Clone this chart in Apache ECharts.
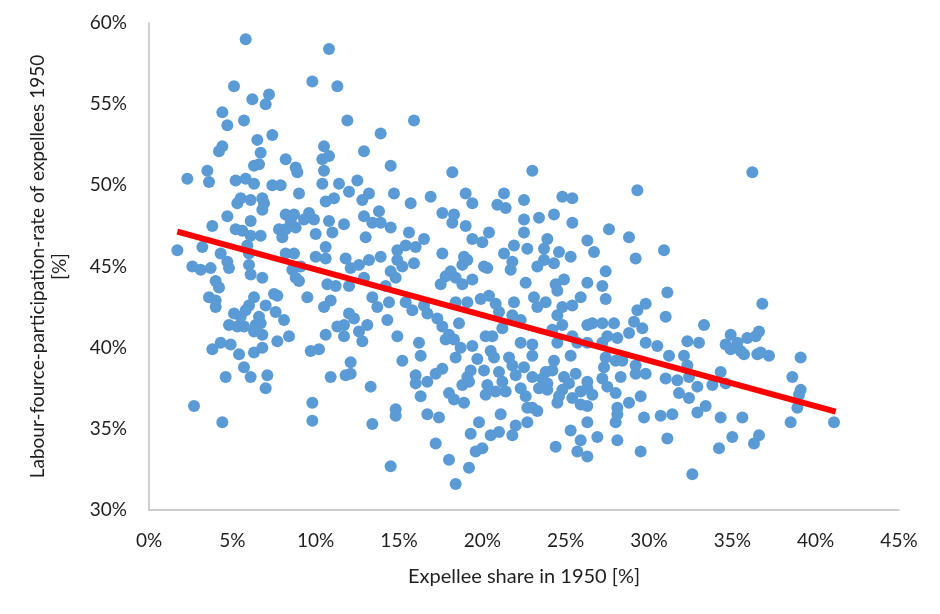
<!DOCTYPE html>
<html>
<head>
<meta charset="utf-8">
<title>Expellee share vs labour-force participation</title>
<script src="https://cdn.jsdelivr.net/npm/echarts@6/dist/echarts.min.js"></script>
<style>
  html, body { margin: 0; padding: 0; background: #fff; }
  #chart { width: 940px; height: 614px; }
</style>
</head>
<body>
<div id="chart"></div>
<script>
// values: [expellee share %, participation rate %]
var ptsTopLeft = [
  [5.8,59.0],[10.8,58.4],[5.1,56.1],[9.8,56.4],[11.3,56.1],[6.2,55.3],[7.2,55.6],[7.0,55.0],[4.4,54.5],[4.7,53.7],
  [5.7,54.0],[6.5,52.8],[7.4,53.1],[4.4,52.4],[4.2,52.1],[6.7,52.0],[10.5,52.4],[8.2,51.6],[10.8,51.8],[10.4,51.6],
  [6.3,51.2],[6.6,51.3],[8.8,51.1],[8.9,50.8],[10.5,50.9],[3.5,50.9],[2.3,50.4],[3.6,50.2],[5.2,50.3],[5.8,50.4],
  [6.3,50.1],[7.4,50.0],[7.9,50.0],[10.4,50.1],[11.4,50.1],[11.9,54.0],[15.9,54.0],[13.9,53.2],[12.9,52.1],[14.5,51.2],
  [18.2,50.8],[12.5,50.3],[23.0,50.9],[36.2,50.8]
];
var ptsLeft = [
  [9.0,49.5],[5.5,49.2],[5.3,48.9],[6.1,49.1],[6.8,49.2],[6.9,48.9],[6.8,48.5],[10.6,49.0],[11.1,49.2],[8.2,48.2],
  [8.7,48.2],[9.6,48.3],[8.5,47.8],[9.3,47.9],[9.9,47.9],[10.8,47.8],[4.7,48.1],[6.1,47.8],[3.8,47.5],[5.2,47.3],
  [5.6,47.2],[6.1,46.9],[6.7,46.9],[7.8,47.3],[8.2,47.3],[8.8,47.4],[8.0,46.8],[10.0,47.0],[11.0,47.1],[5.9,46.3],
  [3.2,46.2],[1.7,46.0],[4.3,45.8],[6.0,45.8],[8.2,45.8],[8.7,45.8],[10.6,46.2],[10.0,45.6],[10.6,45.5],[2.6,45.0],
  [3.1,44.8],[3.7,44.9],[4.7,45.3],[4.8,44.9],[6.0,45.1],[6.1,44.5],[6.8,44.3],[8.6,44.8],[9.1,45.0],[8.8,44.3],
  [9.0,44.1],[4.0,44.1],[4.2,43.7],[10.7,43.9],[11.2,43.8],[3.6,43.1],[4.0,42.9],[4.0,42.5],[6.3,43.1],[7.5,43.3],
  [7.7,43.2],[9.5,43.1],[10.9,42.9],[10.5,42.5],[6.0,42.6],[5.8,42.3],[7.0,42.6],[7.6,42.2],[8.1,41.7],[5.1,42.1],
  [5.5,41.9],[4.8,41.4],[5.3,41.3],[5.7,41.3],[6.6,41.9],[6.4,41.4],[6.7,41.5],[6.3,41.0],[6.8,40.8],[8.4,40.7],
  [7.7,40.4],[10.6,40.8],[11.3,41.3],[4.3,40.3],[4.9,40.2],[3.8,39.9],[5.4,39.6],[6.3,39.7],[9.7,39.8],[10.2,39.9],
  [6.8,40.0],[5.7,38.8],[4.6,38.2],[6.1,38.2],[7.1,38.3],[7.0,37.5],[10.9,38.2],[2.7,36.4],[4.4,35.4],[9.8,36.6],
  [9.8,35.5]
];
var ptsMiddle = [
  [12.0,49.6],[13.2,49.5],[12.8,49.1],[14.7,49.5],[16.9,49.3],[15.7,48.9],[19.0,49.5],[19.4,48.9],[21.3,49.5],[20.9,48.8],
  [21.4,48.6],[22.5,49.1],[17.6,48.3],[18.3,48.2],[18.2,47.7],[13.8,48.4],[12.9,48.1],[13.4,47.7],[13.9,47.7],[14.5,47.4],
  [11.7,47.6],[13.0,46.8],[15.6,47.1],[19.0,47.5],[20.4,47.1],[19.4,46.7],[20.0,46.5],[22.5,47.9],[22.5,47.1],[21.9,46.3],
  [22.7,46.1],[16.5,46.7],[15.4,46.3],[16.0,46.2],[14.9,46.0],[17.6,45.8],[18.9,45.6],[19.1,45.4],[18.8,45.1],[21.3,45.8],
  [21.8,45.3],[21.7,44.8],[13.9,45.6],[13.2,45.4],[12.6,45.1],[11.8,45.5],[12.1,44.9],[14.9,45.4],[15.2,45.0],[15.9,45.2],
  [14.5,44.7],[14.8,44.3],[20.1,45.0],[20.3,44.9],[18.1,44.7],[17.8,44.4],[18.4,44.3],[19.4,44.2],[18.8,43.9],[17.5,43.9],
  [22.6,44.0],[12.0,43.8],[12.9,44.3],[14.2,43.8],[13.4,43.1],[13.7,42.5],[14.4,42.8],[15.4,42.8],[15.8,42.3],[16.5,42.6],
  [16.7,42.1],[18.4,42.8],[19.1,42.8],[19.9,43.0],[20.4,43.2],[20.8,42.7],[21.0,42.2],[21.9,42.8],[21.8,42.0],[22.3,41.7],
  [12.0,42.1],[12.3,41.8],[11.7,41.4],[14.3,41.7],[13.1,41.4],[12.6,41.0],[12.8,40.4],[11.7,40.7],[17.3,41.8],[17.6,41.3],
  [18.0,40.8],[18.6,41.5],[18.3,40.5],[17.8,40.5],[14.9,40.7],[16.2,40.3],[19.4,40.1],[20.2,40.7],[20.6,40.7],[21.2,41.2],
  [22.3,40.3]
];
var ptsLowMiddle = [
  [18.7,40.0],[20.5,39.8],[21.6,39.4],[12.1,39.1],[11.8,38.3],[12.1,38.4],[13.3,37.6],[15.2,39.2],[16.3,39.5],[18.4,39.4],
  [19.7,39.3],[20.7,39.4],[16.0,38.3],[16.0,37.8],[16.7,37.9],[17.2,38.4],[17.6,38.7],[16.3,37.0],[18.0,37.2],[18.3,36.8],
  [18.9,36.6],[18.8,37.7],[19.1,38.2],[19.3,38.6],[19.2,37.9],[20.1,38.6],[21.0,38.5],[20.3,37.7],[21.2,37.9],[20.2,37.1],
  [20.8,37.3],[21.4,37.3],[21.8,38.9],[22.0,38.3],[22.5,38.8],[22.3,37.5],[22.6,37.0],[22.7,36.3],[22.7,35.4],[14.8,36.2],
  [14.8,35.8],[13.4,35.3],[16.7,35.9],[17.4,35.7],[21.1,35.9],[19.8,35.4],[19.3,34.7],[20.5,34.6],[21.0,34.8],[22.0,35.2],
  [21.8,34.6],[17.2,34.1],[19.6,33.6],[20.0,33.8],[18.0,33.1],[14.5,32.7],[19.2,32.6],[18.4,31.6]
];
var ptsRight = [
  [24.8,49.3],[25.4,49.2],[29.3,49.7],[23.4,48.0],[24.3,48.2],[25.4,47.7],[27.6,47.3],[28.8,46.8],[26.3,46.6],[26.7,45.9],
  [29.2,45.5],[30.9,46.0],[23.9,46.7],[23.7,46.1],[24.6,45.9],[25.3,45.6],[23.7,45.4],[23.3,45.0],[24.3,45.2],[27.4,44.7],
  [24.9,44.2],[24.4,43.9],[24.5,43.5],[26.3,44.0],[27.2,43.8],[27.4,43.0],[25.9,43.1],[23.1,43.1],[23.3,42.5],[23.8,42.8],
  [24.8,42.5],[25.4,42.6],[31.1,43.4],[29.8,42.7],[29.3,42.3],[31.0,41.9],[24.5,42.0],[24.8,41.4],[24.2,41.1],[26.3,41.4],
  [26.6,41.5],[27.2,41.5],[27.9,41.5],[29.1,41.6],[29.6,41.2],[28.8,40.9],[27.5,40.7],[28.1,40.6],[25.4,40.7],[25.7,40.3],
  [24.5,40.3],[23.0,40.2],[26.3,40.3],[27.2,40.3],[29.8,40.3],[30.5,40.1],[32.3,40.4],[33.0,40.3],[33.3,41.4]
];
var ptsLowRight = [
  [25.3,39.5],[23.0,39.5],[24.3,39.2],[23.8,38.5],[24.2,38.6],[23.0,38.2],[23.6,38.1],[23.9,37.8],[23.4,37.5],[23.9,37.4],
  [24.9,38.2],[25.6,38.4],[25.2,37.8],[24.8,37.4],[24.6,37.0],[24.5,36.6],[25.4,36.9],[25.9,37.3],[26.3,37.9],[26.3,37.5],
  [26.6,37.1],[25.9,36.5],[26.3,36.4],[23.0,36.3],[23.3,36.1],[27.3,38.8],[27.4,39.4],[28.0,39.2],[28.4,39.2],[27.2,38.1],
  [27.5,37.6],[28.3,38.2],[28.0,37.2],[29.2,38.9],[29.2,38.4],[29.8,38.4],[29.5,37.0],[28.8,36.6],[28.1,36.3],[28.1,35.9],
  [28.0,35.4],[29.7,35.7],[26.3,35.4],[25.3,34.9],[25.9,34.3],[26.9,34.5],[24.4,33.9],[25.7,33.6],[26.3,33.3],[28.1,34.3],
  [29.5,33.6],[31.1,34.4],[30.7,35.8],[31.4,35.9],[32.6,32.2],[31.0,38.1],[31.7,38.0],[31.2,39.5],[32.1,39.5],[32.3,38.9],
  [32.4,38.2],[32.9,37.6],[31.8,37.2],[32.4,36.9],[33.4,36.4],[32.9,36.0],[33.8,37.7]
];
var ptsFarRight = [
  [36.8,42.7],[34.9,40.8],[36.6,41.0],[35.9,40.6],[36.4,40.7],[34.6,40.2],[35.3,40.3],[35.5,39.8],[35.7,39.6],[34.9,39.9],
  [36.5,39.6],[36.7,39.7],[37.2,39.5],[39.1,39.4],[38.6,38.2],[39.1,37.4],[39.0,37.1],[38.9,36.3],[38.5,35.4],[41.1,35.4],
  [34.6,37.8],[35.6,35.7],[35.0,34.5],[36.6,34.6],[36.3,34.1],[34.3,38.5],[34.3,35.7],[34.2,33.8]
];
// red trend line ends
var trendShare = [1.7, 41.2];
var trendRate = [47.15, 36.06];

var allPts = [].concat(ptsTopLeft, ptsLeft, ptsMiddle, ptsLowMiddle, ptsRight, ptsLowRight, ptsFarRight);
var trendPts = trendShare.map(function (x, i) { return [x, trendRate[i]]; });

var FONT = 'Lato, "Open Sans", sans-serif';
var chart = echarts.init(document.getElementById('chart'), null, { renderer: 'canvas' });
chart.setOption({
  animation: false,
  backgroundColor: '#fff',
  grid: { left: 149, right: 41, top: 23, bottom: 104 },
  xAxis: {
    type: 'value', min: 0, max: 45, interval: 5,
    name: 'Expellee share in 1950 [%]',
    nameLocation: 'middle', nameGap: 57,
    nameTextStyle: { fontFamily: FONT, fontSize: 20, color: '#1f1f1f' },
    axisLine: { lineStyle: { color: '#bfbfbf', width: 1.5 } },
    axisTick: { show: false },
    splitLine: { show: false },
    axisLabel: { formatter: '{value}%', margin: 21, fontFamily: FONT, fontSize: 19, color: '#1f1f1f' }
  },
  yAxis: {
    type: 'value', min: 30, max: 60, interval: 5,
    name: 'Labour-fource-participation-rate of expellees 1950\n[%]',
    nameLocation: 'middle', nameGap: 78, nameRotate: 90,
    nameTextStyle: { fontFamily: FONT, fontSize: 19, color: '#1f1f1f', lineHeight: 22, align: 'center' },
    axisLine: { show: true, lineStyle: { color: '#bfbfbf', width: 1.5 } },
    axisTick: { show: false },
    splitLine: { show: false },
    axisLabel: { formatter: '{value}%', margin: 22, fontFamily: FONT, fontSize: 19, color: '#1f1f1f' }
  },
  series: [
    {
      type: 'scatter',
      data: allPts,
      symbolSize: 12,
      itemStyle: { color: '#5b9bd5', opacity: 1 },
      z: 2
    },
    {
      type: 'line',
      data: trendPts,
      symbol: 'none',
      lineStyle: { color: '#ff0000', width: 6 },
      z: 3
    }
  ]
});
</script>
</body>
</html>
